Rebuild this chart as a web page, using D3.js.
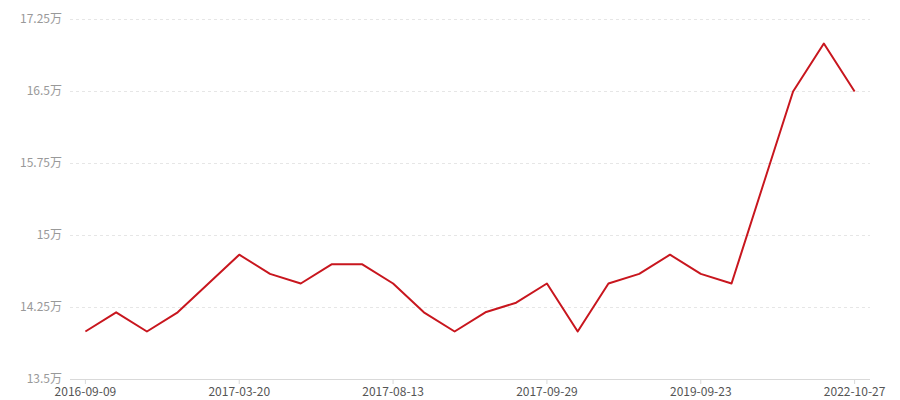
<!DOCTYPE html>
<head>
  <meta charset="utf-8">
  <script src="https://d3js.org/d3.v7.min.js"></script>
  <style>
    body { margin: 0; background: #fff; font-family: "Noto Sans CJK SC", "Noto Sans", sans-serif; }
    .grid line { stroke: #e6e6e6; stroke-dasharray: 3,3; }
  </style>
</head>
<body>
  <svg id="chart" width="900" height="400"></svg>
  <script>
    // values in 万, one per release date
    const values = [14.0, 14.2, 14.0, 14.2, 14.5, 14.8, 14.6, 14.5, 14.7, 14.7, 14.5, 14.2, 14.0,
                    14.2, 14.3, 14.5, 14.0, 14.5, 14.6, 14.8, 14.6, 14.5, 15.5, 16.5, 17.0, 16.5];
    // only every 5th date is labelled on the axis
    const tickIdx = [0, 5, 10, 15, 20, 25];
    const tickLabels = ["2016-09-09", "2017-03-20", "2017-08-13", "2017-09-29", "2019-09-23", "2022-10-27"];
    const yTicks = [13.5, 14.25, 15, 15.75, 16.5, 17.25];

    const svg = d3.select("#chart");
    const mLeft = 70, mRight = 870, mTop = 19, mBottom = 379;

    const x = d3.scaleBand()
      .domain(d3.range(values.length))
      .range([mLeft, mRight]);
    const y = d3.scaleLinear()
      .domain([13.5, 17.25])
      .range([mBottom, mTop]);

    // dashed grid
    svg.append("g").attr("class", "grid")
      .selectAll("line").data(yTicks.slice(1)).enter().append("line")
      .attr("x1", mLeft).attr("x2", mRight)
      .attr("y1", d => y(d) + 0.5).attr("y2", d => y(d) + 0.5);

    // y labels
    svg.append("g").selectAll("text").data(yTicks).enter().append("text")
      .attr("x", mLeft - 8).attr("y", d => y(d))
      .attr("dy", "0.35em").attr("text-anchor", "end")
      .attr("font-size", 12).attr("fill", "#999")
      .text(d => d + "万");

    // x axis
    const labelOf = {};
    tickIdx.forEach((t, i) => labelOf[t] = tickLabels[i]);
    const xAxis = d3.axisBottom(x)
      .tickValues(tickIdx)
      .tickSize(5).tickPadding(3)
      .tickFormat(d => labelOf[d]);
    const gx = svg.append("g").attr("transform", `translate(0,${mBottom})`).call(xAxis);
    gx.select(".domain").attr("stroke", "#d9d9d9").attr("d", `M${mLeft},0.5H${mRight}`);
    gx.selectAll(".tick line").attr("stroke", "#d9d9d9");
    gx.selectAll(".tick text").attr("fill", "#555").attr("font-size", 12)
      .attr("font-family", "'Noto Sans CJK SC', 'Noto Sans', sans-serif");

    // line
    const line = d3.line()
      .x((d, i) => x(i) + x.bandwidth() / 2)
      .y(d => y(d) + 0.5);
    svg.append("path").datum(values)
      .attr("fill", "none")
      .attr("stroke", "#c8161e")
      .attr("stroke-width", 2)
      .attr("stroke-linejoin", "round")
      .attr("d", line);
  </script>
</body>
